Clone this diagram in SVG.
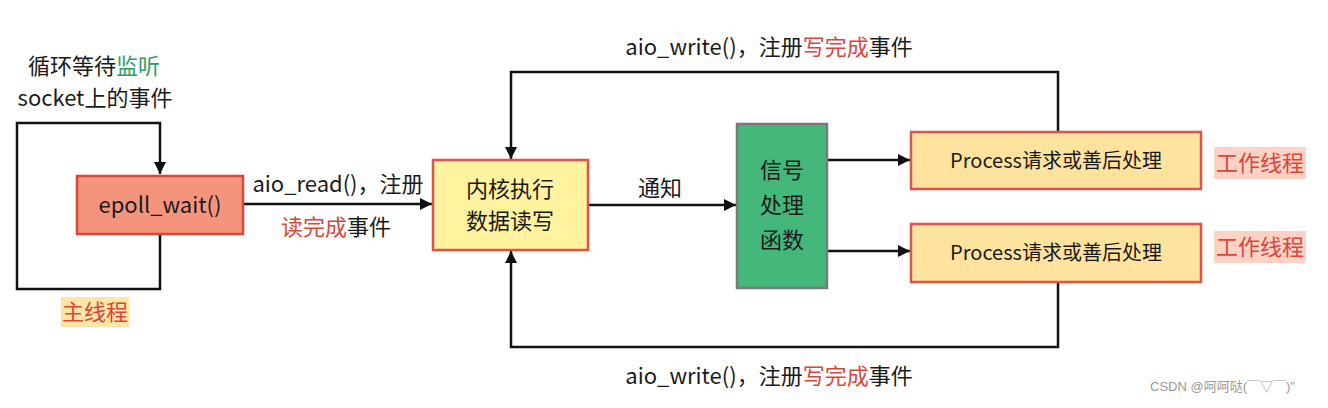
<svg xmlns="http://www.w3.org/2000/svg" width="1328" height="408" viewBox="0 0 1328 408">
<style>
text{font-family:"Noto Sans CJK SC","Noto Sans",sans-serif;font-size:22px;fill:#1a1a1a;text-anchor:middle}
.red{fill:#d9473b}
.grn{fill:#2e9d68}
.proc{font-size:20px}
.ln{fill:none;stroke:#111;stroke-width:2.5}
.wm{font-size:13px;fill:#9a9a9a;font-family:"Liberation Sans","Noto Sans CJK SC",sans-serif;text-anchor:start}
</style>
<defs>
<marker id="ah" viewBox="0 0 12 12" refX="12" refY="6" markerWidth="12" markerHeight="12" markerUnits="userSpaceOnUse" orient="auto">
<path d="M0,0 L12,6 L0,12 z" fill="#111"/>
</marker>
</defs>
<rect width="1328" height="408" fill="#fff"/>
<g id="connectors">
<path class="ln" d="M160,234 V289 H17 V123 H160 V174" marker-end="url(#ah)"/>
<path class="ln" d="M243,204 H432" marker-end="url(#ah)"/>
<path class="ln" d="M588,205 H736" marker-end="url(#ah)"/>
<path class="ln" d="M828,160 H910" marker-end="url(#ah)"/>
<path class="ln" d="M828,251 H910" marker-end="url(#ah)"/>
<path class="ln" d="M1058,131 V72 H511 V159" marker-end="url(#ah)"/>
<path class="ln" d="M1058,283 V347 H511 V251" marker-end="url(#ah)"/>
</g>
<g id="loop-label">
<text x="94" y="74">循环等待<tspan class="grn">监听</tspan></text>
<text x="95" y="106">socket上的事件</text>
</g>
<g id="main-thread-label">
<rect x="61" y="297" width="68" height="30" fill="#fde5a6"/>
<text x="95" y="320" class="red">主线程</text>
</g>
<g id="epoll">
<rect x="77" y="176" width="166" height="58" fill="#f5947d" stroke="#d9473b" stroke-width="2.5"/>
<text x="160" y="213">epoll_wait()</text>
</g>
<g id="read-label">
<text x="338" y="192">aio_read()，注册</text>
<text x="336" y="235"><tspan class="red">读完成</tspan>事件</text>
</g>
<g id="kernel">
<rect x="433" y="160" width="155" height="90" fill="#fff39f" stroke="#e0524a" stroke-width="2.5"/>
<text x="510" y="197">内核执行</text>
<text x="510" y="229">数据读写</text>
</g>
<text x="660" y="196">通知</text>
<g id="signal">
<rect x="737" y="124" width="90" height="164" fill="#44b77b" stroke="#7a7a7a" stroke-width="2.5"/>
<text x="782" y="178">信号</text>
<text x="782" y="213">处理</text>
<text x="782" y="248">函数</text>
</g>
<g id="process1">
<rect x="911" y="132" width="290" height="57" fill="#fee39e" stroke="#e0524a" stroke-width="2.5"/>
<text x="1056" y="168" class="proc">Process请求或善后处理</text>
</g>
<g id="process2">
<rect x="911" y="224" width="290" height="58" fill="#fee39e" stroke="#e0524a" stroke-width="2.5"/>
<text x="1056" y="260" class="proc">Process请求或善后处理</text>
</g>
<g id="worker1">
<rect x="1214" y="147" width="92" height="32" fill="#fcd2c6"/>
<text x="1260" y="171" class="red">工作线程</text>
</g>
<g id="worker2">
<rect x="1214" y="231" width="92" height="32" fill="#fcd2c6"/>
<text x="1260" y="255" class="red">工作线程</text>
</g>
<text x="769" y="55">aio_write()，注册<tspan class="red">写完成</tspan>事件</text>
<text x="769" y="384">aio_write()，注册<tspan class="red">写完成</tspan>事件</text>
<text class="wm" x="1150" y="391">CSDN @呵呵哒(￣▽￣)"</text>
</svg>
